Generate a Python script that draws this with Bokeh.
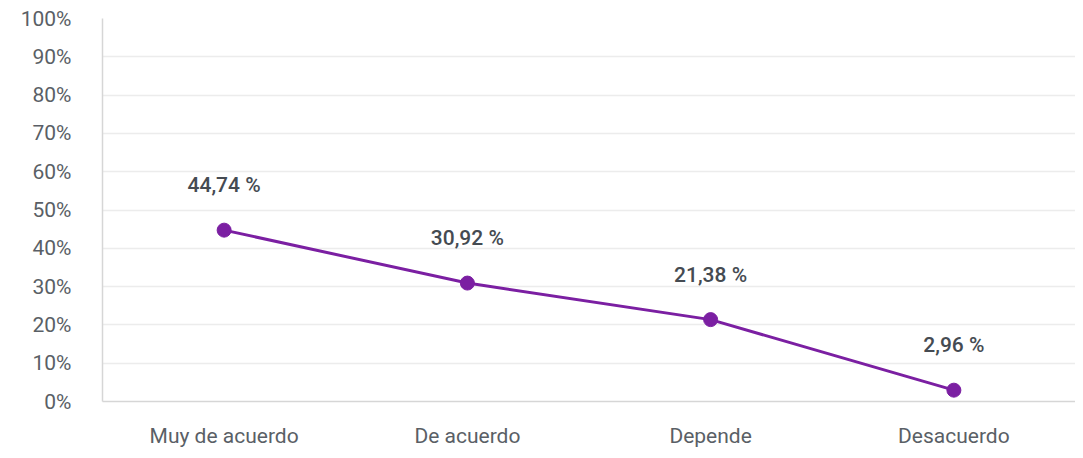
from bokeh.plotting import figure
from bokeh.models import ColumnDataSource, FixedTicker, PrintfTickFormatter, Range1d
from bokeh.core.properties import value
from bokeh.embed import file_html
from bokeh.resources import INLINE

categories = ["Muy de acuerdo", "De acuerdo", "Depende", "Desacuerdo"]
values = [44.74, 30.92, 21.38, 2.96]
labels = ["44,74 %", "30,92 %", "21,38 %", "2,96 %"]
y_ticks = [0, 10, 20, 30, 40, 50, 60, 70, 80, 90, 100]

FONT = "Roboto"
PURPLE = "#7b1fa2"

src = ColumnDataSource(data=dict(cat=categories, val=values, lab=labels))

p = figure(x_range=categories, y_range=Range1d(0, 100),
           width=1075, height=450, output_backend="svg", toolbar_location=None,
           min_border_left=102, min_border_top=18, min_border_right=0, min_border_bottom=44)
p.outline_line_color = None
p.background_fill_color = "white"
p.border_fill_color = "white"

p.xgrid.grid_line_color = None
p.ygrid.grid_line_color = "#ececec"
p.ygrid.grid_line_width = 1.5

p.yaxis.ticker = FixedTicker(ticks=y_ticks)
p.yaxis.formatter = PrintfTickFormatter(format="%d%%")
p.yaxis.major_tick_line_color = None
p.yaxis.minor_tick_line_color = None
p.yaxis.axis_line_color = "#d6d6d6"
p.yaxis.axis_line_width = 1.5
p.yaxis.major_label_text_font = FONT
p.yaxis.major_label_text_font_size = "21px"
p.yaxis.major_label_text_color = "#5a5f66"
p.yaxis.major_label_standoff = 25

p.xaxis.major_tick_line_color = None
p.xaxis.minor_tick_line_color = None
p.xaxis.axis_line_color = "#d6d6d6"
p.xaxis.axis_line_width = 1.5
p.xaxis.major_label_text_font = FONT
p.xaxis.major_label_text_font_size = "21px"
p.xaxis.major_label_text_color = "#5a5f66"
p.xaxis.major_label_standoff = 16

p.line(x="cat", y="val", source=src, line_color=PURPLE, line_width=3)
p.scatter(x="cat", y="val", source=src, size=14, fill_color=PURPLE, line_color=PURPLE)
p.text(x="cat", y="val", text="lab", source=src, y_offset=-45,
       text_align="center", text_baseline="middle",
       text_font=value("Roboto Medium, Roboto"), text_font_size="21px",
       text_color="#454b52")

open("out.html", "w").write(file_html(p, INLINE))
